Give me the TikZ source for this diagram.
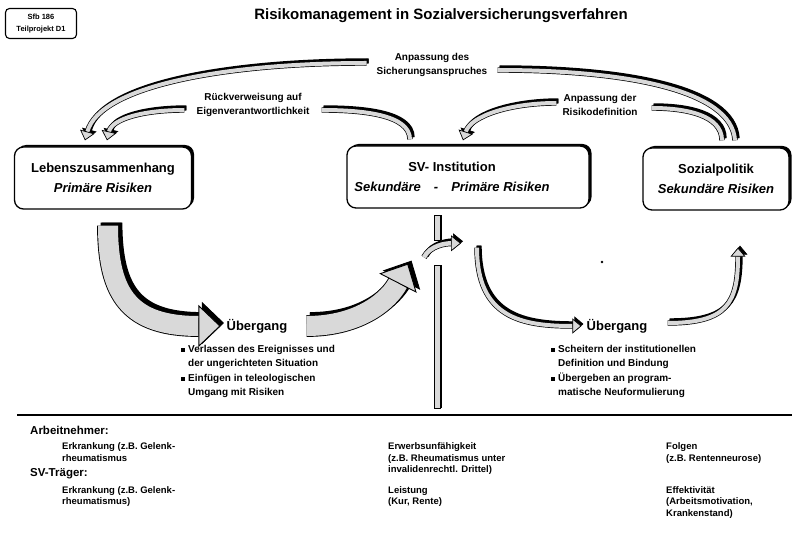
\documentclass[tikz,border=0pt]{standalone}
\usepackage{fontspec}
\setmainfont{Liberation Sans}
\usetikzlibrary{arrows.meta,calc,positioning,shadows}
\newcommand{\bulsq}{\rule[0.5pt]{4pt}{4pt}}
\tikzset{
  stage/.style    = {draw, line width=1.3pt, rounded corners=9pt, fill=white,
                     minimum height=62pt, align=center,
                     font=\bfseries\fontsize{13}{20}\selectfont,
                     drop shadow={shadow xshift=2.5pt, shadow yshift=2pt,
                                  fill=black, opacity=1}},
  sfbbox/.style   = {draw, line width=1.1pt, rounded corners=4pt, align=center,
                     minimum width=71pt, minimum height=30pt, inner sep=1pt,
                     font=\bfseries\fontsize{7.5}{12}\selectfont},
  arclabel/.style = {align=center, inner sep=2pt,
                     font=\bfseries\fontsize{10}{14}\selectfont},
  step label/.style = {inner sep=2pt, font=\bfseries\fontsize{13}{16}\selectfont},
  bullets/.style  = {inner sep=0pt, font=\bfseries\fontsize{10}{14.5}\selectfont},
  heading/.style  = {inner sep=0pt, anchor=base west,
                     font=\bfseries\fontsize{11.5}{14}\selectfont},
  small/.style    = {inner sep=0pt, anchor=north west, align=left,
                     font=\bfseries\fontsize{9.5}{11.5}\selectfont},
  bar/.style      = {draw, line width=0.6pt, fill=gray!30, minimum width=6pt,
                     inner sep=0pt,
                     drop shadow={shadow xshift=2.2pt, shadow yshift=0pt,
                                  fill=black, opacity=1}},
  % shaded bands with a black shadow
  ribbon/.style      = {draw, line width=0.7pt, double=gray!30, double distance=#1},
  band shadow/.style = {preaction={draw=black, double=black,
                        transform canvas={shift={(2pt,2pt)}}, #1}},
  band shadow/.default = {},
  big shadow/.style  = {preaction={draw=black, double=black,
                        transform canvas={shift={(3.5pt,3pt)}}, #1}},
  thin band/.style   = {ribbon=4pt, band shadow},
  thin arrow/.style  = {ribbon=4pt,
                        band shadow={-{Triangle[length=9pt,width=15pt,fill=black,line width=0.7pt]}},
                        -{Triangle[length=9pt,width=15pt,fill=gray!30,line width=0.7pt]}},
  small arrow/.style = {ribbon=4.5pt,
                        band shadow={-{Triangle[length=10pt,width=16pt,fill=black,line width=0.7pt]}},
                        -{Triangle[length=10pt,width=16pt,fill=gray!30,line width=0.7pt]}},
  big arrow/.style   = {draw, line width=0.9pt, double=gray!30, double distance=20pt,
                        big shadow={-{Triangle[length=22pt,width=42pt,fill=black,line width=0.9pt]}},
                        -{Triangle[length=22pt,width=42pt,fill=gray!30,line width=0.9pt]}}
}

\begin{document}
\begin{tikzpicture}[x=1pt, y=-1pt]
\useasboundingbox (0,0) rectangle (792,537);

% header
\node[sfbbox] (sfb) at (41,23.5) {Sfb 186\\Teilprojekt D1};
\node[font=\bfseries\fontsize{15}{18}\selectfont] (title) at (441,16)
  {Risikomanagement in Sozialversicherungsverfahren};

% the three areas
\node[stage, minimum width=177pt] (leben) at (103,178)
  {Lebenszusammenhang\\\textit{Primäre Risiken}};
\node[stage, minimum width=242pt] (svinst) at (468,177)
  {SV- Institution\hspace{32pt}\mbox{}\\\textit{Sekundäre\quad-\quad Primäre Risiken}\hspace{32pt}\mbox{}};
\node[stage, minimum width=146pt] (sozpol) at (716,179)
  {Sozialpolitik\\\textit{Sekundäre Risiken}};

% labels on the feedback arcs
\node[arclabel] (lsich)  at (432,65)  {Anpassung des\\Sicherungsanspruches};
\node[arclabel] (lrueck) at (253,105) {Rückverweisung auf\\Eigenverantwortlichkeit};
\node[arclabel] (lrisk)  at (600,105) {Anpassung der\\Risikodefinition};

% feedback arcs, each one broken by its label
\draw[thin band] ([xshift=19pt,yshift=7pt]sozpol.north)
  .. controls +(-3,-50) and +(130,0) .. ([xshift=8pt,yshift=-5pt]lsich.east);
\draw[thin arrow] ([xshift=-8pt,yshift=2pt]lsich.west)
  .. controls +(-140,0) and +(15,-55) .. ([xshift=-18pt,yshift=6pt]leben.north);

\draw[thin band] ([xshift=-58pt,yshift=6pt]svinst.north)
  .. controls +(0,-25) and +(40,0) .. ([xshift=10pt,yshift=-5pt]lrueck.east);
\draw[thin arrow] ([xshift=-10pt,yshift=-5pt]lrueck.west)
  .. controls +(-40,0) and +(5,-22) .. ([xshift=4pt,yshift=6pt]leben.north);

\draw[thin band] ([xshift=6pt,yshift=7pt]sozpol.north)
  .. controls +(0,-25) and +(35,0) .. ([xshift=12pt,yshift=-3pt]lrisk.east);
\draw[thin arrow] ([xshift=-4pt,yshift=2pt]lrisk.west)
  .. controls +(-45,0) and +(8,-25) .. ([xshift=-5pt,yshift=5pt]svinst.north);

% transitions
\node[step label] (ueb1) at (257,326) {Übergang};
\node[step label] (ueb2) at (617,326) {Übergang};

\draw[big arrow] ([xshift=5pt,yshift=-16pt]leben.south)
  .. controls +(0,70) and +(-90,0) .. ([xshift=-4pt]ueb1.west);
\draw[big arrow] ([xshift=17pt]ueb1.east)
  .. controls +(55,0) and +(-18,35) .. ([xshift=-60pt,yshift=-55pt]svinst.south);

\node[bar, minimum height=25pt]  (bartop) at (437,227.5) {};
\node[bar, minimum height=143pt] (barlow) at (437,336.5) {};
\draw[small arrow] ([xshift=-13pt,yshift=-17pt]bartop.south)
  .. controls +(6,-12) and +(-15,0) .. ([xshift=24pt,yshift=-3pt]bartop.south);

\draw[thin arrow] ([xshift=9pt,yshift=-39pt]svinst.south)
  .. controls +(0,70) and +(-60,0) .. ([xshift=-3pt]ueb2.west);
\draw[thin arrow] ([xshift=18pt,yshift=3pt]ueb2.east)
  .. controls +(60,0) and +(0,55) .. ([xshift=22pt,yshift=-37pt]sozpol.south);

\fill (602,262) circle (1.3pt);

% bullet texts
\node[bullets, anchor=north west] (txt1) at (181,342)
  {\begin{tabular}{@{}l@{\hspace{3pt}}l@{}}
   \bulsq & Verlassen des Ereignisses und\\
          & der ungerichteten Situation\\
   \bulsq & Einfügen in teleologischen\\
          & Umgang mit Risiken
   \end{tabular}};
\node[bullets, anchor=north west] (txt2) at (551,342)
  {\begin{tabular}{@{}l@{\hspace{3pt}}l@{}}
   \bulsq & Scheitern der institutionellen\\
          & Definition und Bindung\\
   \bulsq & Übergeben an program-\\
          & matische Neuformulierung
   \end{tabular}};

% bottom table
\coordinate (ruleL) at (17,415);
\coordinate (ruleR) at (792,415);
\draw[line width=1.4pt] (ruleL) -- (ruleR);

\node[heading] (arbn) at (30,434)   {Arbeitnehmer:};
\node[heading] (svtr) at (30,476.5) {SV-Träger:};

\node[small] (an1) at (62,441.3)  {\strut Erkrankung (z.B. Gelenk-\\rheumatismus};
\node[small] (an2) at (388,441.3) {\strut Erwerbsunfähigkeit\\(z.B. Rheumatismus unter\\invalidenrechtl. Drittel)};
\node[small] (an3) at (666,441.3) {\strut Folgen\\(z.B. Rentenneurose)};

\node[small] (sv1) at (62,484.8)  {\strut Erkrankung (z.B. Gelenk-\\rheumatismus)};
\node[small] (sv2) at (388,484.8) {\strut Leistung\\(Kur, Rente)};
\node[small] (sv3) at (666,484.8) {\strut Effektivität\\(Arbeitsmotivation,\\Krankenstand)};
\end{tikzpicture}
\end{document}
